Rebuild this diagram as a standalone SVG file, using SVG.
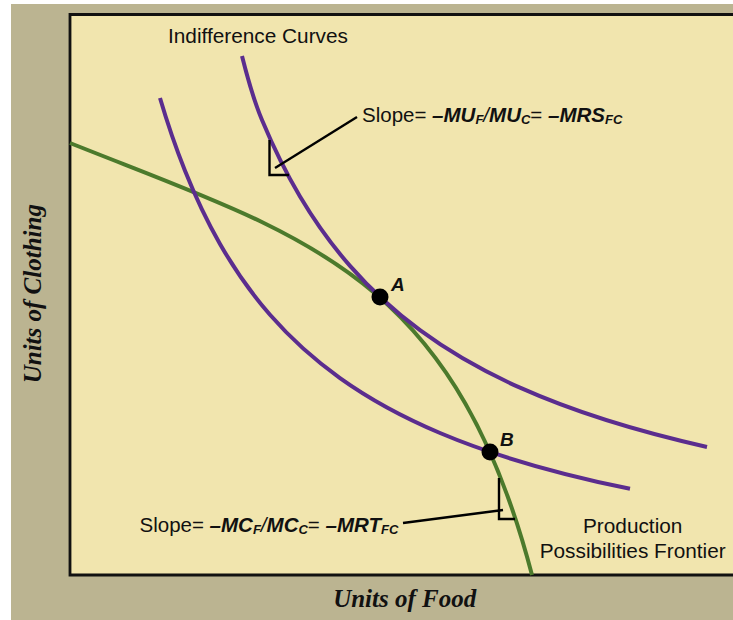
<svg xmlns="http://www.w3.org/2000/svg" width="733" height="620" viewBox="0 0 733 620">
  <style>
    .frame { fill: #f1e5ae; stroke: #111; stroke-width: 2.8; }
    .ic { fill: none; stroke: #5b2d8e; stroke-width: 4; stroke-linecap: butt; }
    .ppf { fill: none; stroke: #4c7a2c; stroke-width: 4; }
    .lead { fill: none; stroke: #000; stroke-width: 2.4; }
    .dot { fill: #000; }
    .txt { font-family: "Liberation Sans", Arial, sans-serif; fill: #111; }
    .bi { font-weight: bold; font-style: italic; }
    .it { font-style: italic; }
    .sub { font-size: 13px; font-weight: bold; font-style: italic; }
    .axis { font-family: "Liberation Serif", "Times New Roman", serif; font-weight: bold; font-style: italic; font-size: 25px; fill: #111; }
  </style>

  <!-- page and plot area -->
  <rect x="0" y="0" width="733" height="620" fill="#ffffff"/>
  <rect x="11" y="4" width="722" height="616" fill="#bbb491"/>
  <path class="frame" d="M740,14.5 H70 V575 H740"/>

  <!-- production possibilities frontier -->
  <g id="ppf">
    <path class="ppf" d="M70,143 C300,235 452,270 532,575"/>
  </g>

  <!-- indifference curves -->
  <g id="ic-high">
    <path class="ic" d="M242,56 C248.7,82.7 255.3,104 262,120 C274.7,150.4 287.3,175.1 300,196.5 C316.7,224.6 333.3,246.8 350,265.9 C373.3,292.6 396.7,313 420,330.2 C453.3,354.8 486.7,372.8 520,387.7 C582.3,415.6 644.7,433 707,447"/>
  </g>
  <g id="ic-low">
    <path class="ic" d="M160,98 C168.3,126.25 176.7,149.94 185,170.8 C196.7,200 208.3,223.6 220,244 C236.7,273.1 253.3,295.7 270,314.8 C293.3,341.5 316.7,361.4 340,378.1 C373.3,401.9 406.7,418.9 440,433 C503.3,459.7 566.7,475.9 630,488.8"/>
  </g>

  <!-- slope markers and leader lines -->
  <g id="connectors">
    <path class="lead" d="M269.5,140 V175 H289"/>
    <path class="lead" d="M275,168 L357,117"/>
    <path class="lead" d="M499,478 V519 H515"/>
    <path class="lead" d="M403,523 L503,510"/>
  </g>

  <!-- points of tangency / intersection -->
  <g id="point-a">
    <circle class="dot" cx="380" cy="297" r="8.5"/>
    <text class="txt bi" x="391" y="291" font-size="19">A</text>
  </g>
  <g id="point-b">
    <circle class="dot" cx="490" cy="452" r="8.5"/>
    <text class="txt bi" x="500" y="445.5" font-size="19">B</text>
  </g>

  <!-- labels -->
  <g id="label-ic">
    <text class="txt" x="168" y="43" font-size="20.8">Indifference Curves</text>
  </g>
  <g id="label-mrs">
    <text class="txt" x="362" y="121.5" font-size="20.5">Slope= <tspan class="bi">–MU</tspan><tspan class="sub" dy="2.5">F</tspan><tspan class="it" dy="-2.5">/</tspan><tspan class="bi">MU</tspan><tspan class="sub" dy="2.5">C</tspan><tspan dy="-2.5">= </tspan><tspan class="bi">–MRS</tspan><tspan class="sub" dy="2.5">FC</tspan></text>
  </g>
  <g id="label-mrt">
    <text class="txt" x="139.5" y="531.5" font-size="20.5">Slope= <tspan class="bi">–MC</tspan><tspan class="sub" dy="2.5">F</tspan><tspan class="it" dy="-2.5">/</tspan><tspan class="bi">MC</tspan><tspan class="sub" dy="2.5">C</tspan><tspan dy="-2.5">= </tspan><tspan class="bi">–MRT</tspan><tspan class="sub" dy="2.5">FC</tspan></text>
  </g>
  <g id="label-ppf">
    <text class="txt" x="632.7" y="533.3" font-size="20.8" text-anchor="middle">Production</text>
    <text class="txt" x="632.7" y="558.3" font-size="20.8" text-anchor="middle">Possibilities Frontier</text>
  </g>

  <!-- axis titles -->
  <text class="axis" x="404.7" y="607.3" text-anchor="middle">Units of Food</text>
  <text class="axis" transform="translate(41,293.7) rotate(-90)" x="0" y="0" text-anchor="middle">Units of Clothing</text>
</svg>
